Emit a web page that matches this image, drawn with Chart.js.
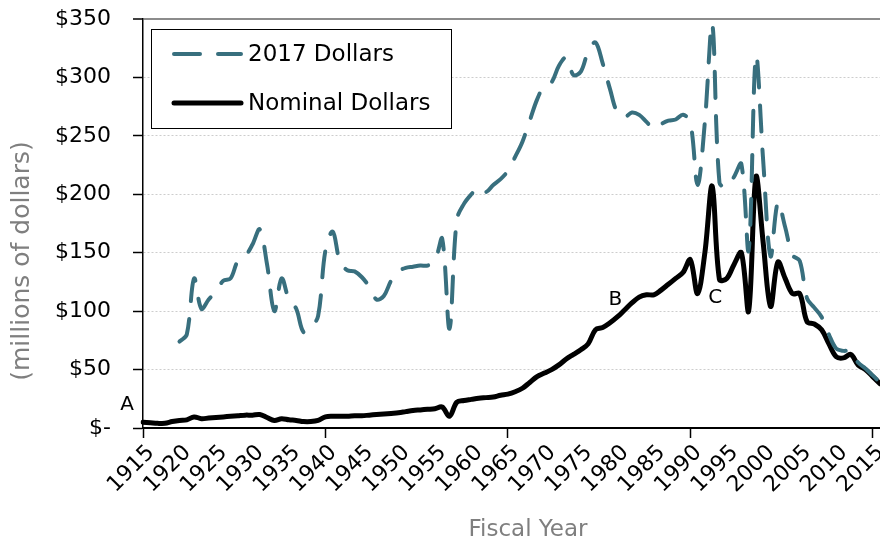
<!DOCTYPE html>
<html>
<head>
<meta charset="utf-8">
<title>Fiscal Year spending</title>
<script src="https://cdn.jsdelivr.net/npm/chart.js@4.4.1/dist/chart.umd.min.js"></script>
<style>
  html, body { margin: 0; padding: 0; background: #fff; }
  #wrap { width: 880px; height: 547px; }
</style>
</head>
<body>
<div id="wrap"><canvas id="chart" width="880" height="547"></canvas></div>
<script>
// fiscal years 1915 - 2016
const years = [];
for (let y = 1915; y <= 2016; y++) years.push(y);

// millions of dollars, nominal
const nominalDollars = [
  5, 4.5, 4, 4, 5.5, 6.5, 7, 9.5, 8, 8.5,                 // 1915-1924
  9, 9.5, 10, 10.5, 11, 11, 11.5, 9, 6.5, 8,              // 1925-1934
  7, 6.5, 5.5, 5.5, 6.5, 9.5, 10, 10, 10, 10.5,           // 1935-1944
  10.5, 11, 11.5, 12, 12.5, 13, 14, 15, 15.5, 16,         // 1945-1954
  16.5, 18, 10, 22, 23.5, 24.5, 25.5, 26, 26.5, 28,       // 1955-1964
  29, 31, 34, 39, 44, 47, 50, 54, 59, 63,                 // 1965-1974
  67, 72, 84, 86, 90, 95, 101, 107, 112, 114,             // 1975-1984
  114, 118, 123, 128, 133, 144, 115, 150, 207, 127,       // 1985-1994
  128, 140, 150, 100, 215, 158, 104, 142, 128, 115,       // 1995-2004
  115, 91, 89, 84, 72, 61, 60, 63, 54, 50,                // 2005-2014
  44, 38                                                  // 2015-2016
];

// millions of 2017 dollars (series starts in 1920)
const realDollars = [
  null, null, null, null, null, 74, 80, 128, 102, 110,    // 1915-1924
  117, 126, 128, 143, 147, 157, 170, 140, 100, 128,       // 1925-1934
  110, 102, 82, 86, 96, 152, 168, 142, 135, 134,          // 1935-1944
  129, 121, 110, 113, 126, 134, 137, 138, 139, 139,       // 1945-1954
  143, 162, 85, 178, 192, 200, 206, 202, 208, 213,        // 1955-1964
  220, 232, 245, 263, 281, 293, 296, 310, 317, 302,       // 1965-1974
  305, 322, 330, 312, 290, 270, 266, 270, 268, 262,       // 1975-1984
  256, 260, 263, 264, 268, 262, 208, 262, 346, 210,       // 1985-1994
  206, 215, 226, 152, 318, 228, 147, 193, 172, 148,       // 1995-2004
  143, 111, 103, 95, 80, 68, 66, 66, 56, 51,              // 2005-2014
  45, 39                                                  // 2015-2016
];

const seriesNames = ['2017 Dollars', 'Nominal Dollars'];
const yMin = 0, yMax = 350, yStep = 50;
const xTitle = 'Fiscal Year';
const yTitle = '(millions of dollars)';

// point labels on the chart
const notes = [
  { text: 'A', year: 1915, value: 20, dx: -16 },
  { text: 'B', year: 1980, value: 110, dx: -2 },
  { text: 'C', year: 1993, value: 111, dx: 3 }
];

const FONT = '"DejaVu Sans", Verdana, sans-serif';
const TEAL = '#386f7e';

const extras = {
  id: 'extras',
  afterDraw(chart) {
    const ctx = chart.ctx;
    const xs = chart.scales.x, ys = chart.scales.y;
    const area = chart.chartArea;
    ctx.save();

    // axis titles
    ctx.fillStyle = '#7f7f7f';
    ctx.textAlign = 'center';
    ctx.textBaseline = 'middle';
    ctx.font = '23px ' + FONT;
    ctx.fillText(xTitle, 528, 530);
    ctx.save();
    ctx.translate(22, 261);
    ctx.rotate(-Math.PI / 2);
    ctx.font = '25px ' + FONT;
    ctx.fillText(yTitle, 0, 0);
    ctx.restore();

    // A / B / C labels
    ctx.font = '20px ' + FONT;
    ctx.fillStyle = '#000';
    notes.forEach(n => {
      const px = xs.getPixelForValue(years.indexOf(n.year)) + n.dx;
      const py = ys.getPixelForValue(n.value);
      ctx.fillText(n.text, px, py);
    });

    // legend box
    const bx = area.left + 8, by = area.top + 10, bw = 300, bh = 99;
    ctx.fillStyle = '#fff';
    ctx.fillRect(bx, by, bw, bh);
    ctx.strokeStyle = '#000';
    ctx.lineWidth = 1;
    ctx.strokeRect(bx + 0.5, by + 0.5, bw, bh);

    ctx.font = '23px ' + FONT;
    ctx.textAlign = 'left';
    chart.data.datasets.forEach((ds, i) => {
      const ly = by + 25 + i * 49;
      ctx.beginPath();
      ctx.setLineDash(ds.borderDash || []);
      ctx.lineCap = ds.borderCapStyle || 'butt';
      ctx.strokeStyle = ds.borderColor;
      ctx.lineWidth = ds.borderWidth;
      ctx.moveTo(bx + 23, ly);
      ctx.lineTo(bx + 90, ly);
      ctx.stroke();
      ctx.setLineDash([]);
      ctx.fillStyle = '#000';
      ctx.fillText(ds.label, bx + 97, ly + 1);
    });
    ctx.restore();
  }
};

new Chart(document.getElementById('chart'), {
  type: 'line',
  data: {
    labels: years,
    datasets: [
      {
        label: seriesNames[0],
        data: realDollars,
        borderColor: TEAL,
        borderWidth: 4,
        borderDash: [26, 18],
        borderCapStyle: 'round',
        pointRadius: 0,
        tension: 0.35,
        fill: false
      },
      {
        label: seriesNames[1],
        data: nominalDollars,
        borderColor: '#000',
        borderWidth: 5,
        borderCapStyle: 'round',
        borderJoinStyle: 'round',
        pointRadius: 0,
        tension: 0.35,
        fill: false
      }
    ]
  },
  options: {
    responsive: false,
    animation: false,
    layout: { padding: { top: 19, right: 0, left: 0, bottom: 0 } },
    plugins: {
      legend: { display: false },
      tooltip: { enabled: false }
    },
    scales: {
      x: {
        type: 'category',
        afterFit: s => {
          s.height = 119;
          s.paddingLeft = 0;
          s.paddingRight = 0;
        },
        grid: {
          drawOnChartArea: false,
          drawTicks: true,
          tickLength: 10,
          tickWidth: 1.5,
          tickColor: c => (years[c.index] % 5 === 0 ? '#000' : 'rgba(0,0,0,0)')
        },
        border: { color: '#000', width: 2 },
        ticks: {
          autoSkip: false,
          maxRotation: 45,
          minRotation: 45,
          padding: 2,
          labelOffset: 8,
          color: '#000',
          font: { family: FONT, size: 22 },
          callback: function (v, i) {
            return years[i] % 5 === 0 ? String(years[i]) : null;
          }
        }
      },
      y: {
        min: yMin,
        max: yMax,
        afterFit: s => {
          s.width = 143;
          s.paddingTop = 0;
          s.paddingBottom = 0;
        },
        ticks: {
          stepSize: yStep,
          padding: 22,
          color: '#000',
          font: { family: FONT, size: 22 },
          callback: v => (v === 0 ? '$-' : '$' + v)
        },
        grid: {
          color: c => (c.tick && c.tick.value === yMax ? '#8c8c8c' : '#cdcdcd'),
          lineWidth: c => (c.tick && c.tick.value === yMax ? 2 : 1),
          tickColor: '#000',
          tickLength: 10,
          tickWidth: 1.5
        },
        border: {
          color: '#000',
          width: 1.5,
          dash: c => (c.tick && c.tick.value !== yMax ? [2, 2] : [])
        }
      }
    }
  },
  plugins: [extras]
});
</script>
</body>
</html>
